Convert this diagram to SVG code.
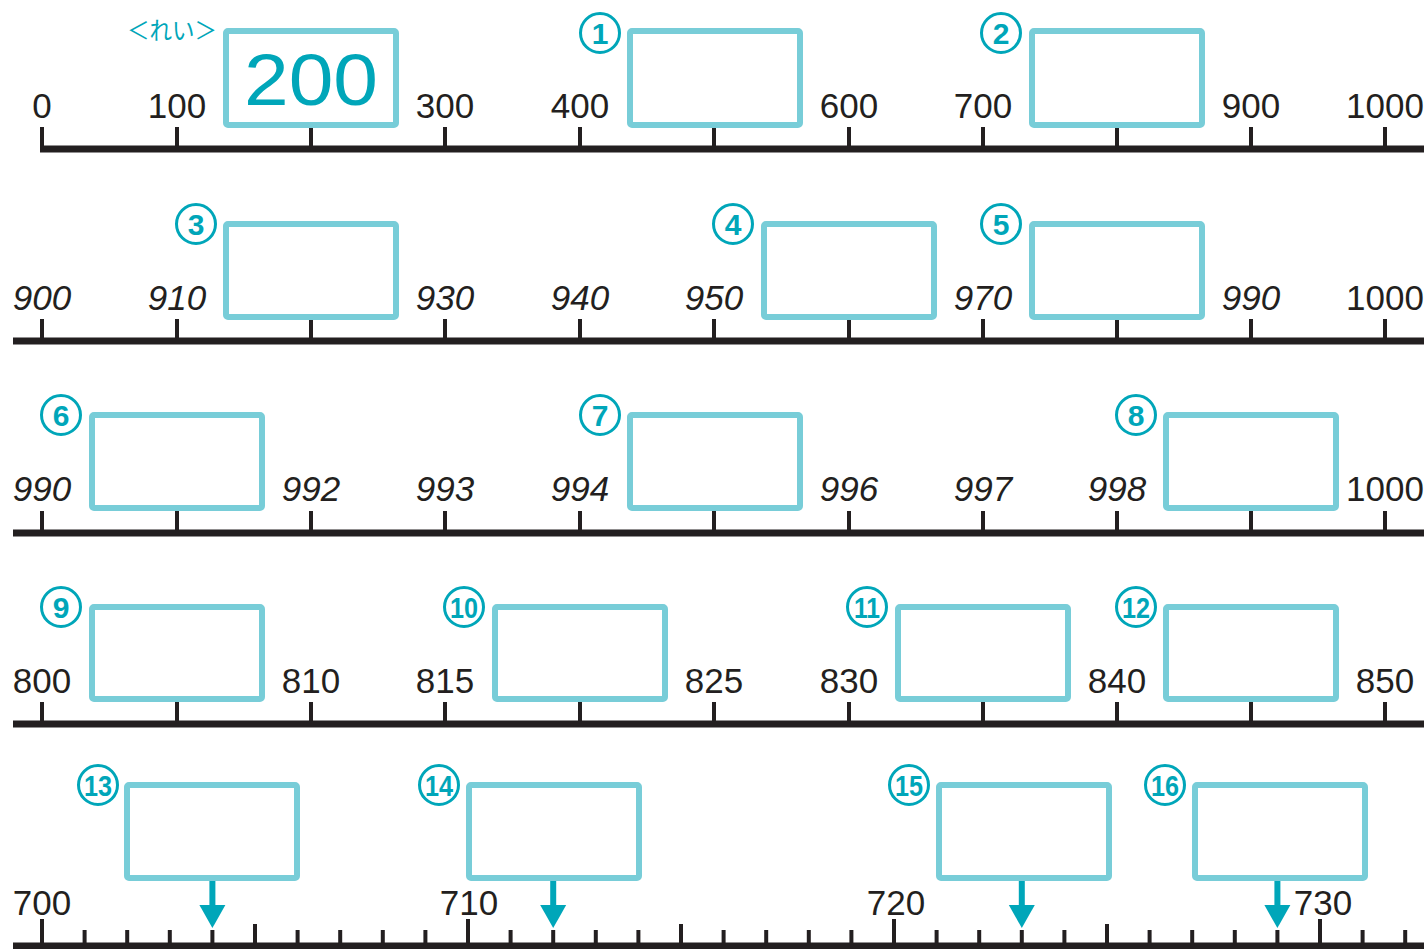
<svg xmlns="http://www.w3.org/2000/svg" width="1424" height="949" viewBox="0 0 1424 949">
<style>
.ax{stroke:#231f20;stroke-width:7;fill:none}
.tk{stroke:#231f20;stroke-width:4;fill:none}
.bx{fill:#fff;stroke:#78cdd8;stroke-width:6}
.lb{font-family:"Liberation Sans",Arial,sans-serif;font-size:35px;fill:#231f20;text-anchor:middle}
.it{font-style:italic}
.cc{fill:#fff;stroke:#00a6b9;stroke-width:3}
.cn{font-family:"Liberation Sans",Arial,sans-serif;font-size:30px;font-weight:bold;fill:#00a6b9;text-anchor:middle}
.ar{fill:#00a6b9}
.as{stroke:#00a6b9;stroke-width:6}
</style>
<rect width="1424" height="949" fill="#fff"/>
<g id="axes">
<line class="ax" x1="40" y1="149" x2="1424" y2="149"/>
<line class="ax" x1="13" y1="341" x2="1424" y2="341"/>
<line class="ax" x1="13" y1="533" x2="1424" y2="533"/>
<line class="ax" x1="13" y1="724" x2="1424" y2="724"/>
<line class="ax" x1="13" y1="946" x2="1424" y2="946"/>
<path class="tk" d="M42 127V149M177 127V149M311 127V149M445 127V149M580 127V149M714 127V149M849 127V149M983 127V149M1117 127V149M1251 127V149M1385 127V149"/>
<path class="tk" d="M42 319V341M177 319V341M311 319V341M445 319V341M580 319V341M714 319V341M849 319V341M983 319V341M1117 319V341M1251 319V341M1385 319V341"/>
<path class="tk" d="M42 511V533M177 511V533M311 511V533M445 511V533M580 511V533M714 511V533M849 511V533M983 511V533M1117 511V533M1251 511V533M1385 511V533"/>
<path class="tk" d="M42 702V724M177 702V724M311 702V724M445 702V724M580 702V724M714 702V724M849 702V724M983 702V724M1117 702V724M1251 702V724M1385 702V724"/>
<path class="tk" d="M42 919V946M84.6 930V946M127.2 930V946M169.8 930V946M212.4 930V946M255 924V946M297.6 930V946M340.2 930V946M382.8 930V946M425.4 930V946M468 919V946M510.6 930V946M553.2 930V946M595.8 930V946M638.4 930V946M681 924V946M723.6 930V946M766.2 930V946M808.8 930V946M851.4 930V946M894 919V946M936.6 930V946M979.2 930V946M1021.8 930V946M1064.4 930V946M1107 924V946M1149.6 930V946M1192.2 930V946M1234.8 930V946M1277.4 930V946M1320 919V946M1362.6 930V946M1405.2 930V946"/>
</g>
<g id="labels">
<text class="lb" x="42" y="118">0</text>
<text class="lb" x="177" y="118">100</text>
<text class="lb" x="445" y="118">300</text>
<text class="lb" x="580" y="118">400</text>
<text class="lb" x="849" y="118">600</text>
<text class="lb" x="983" y="118">700</text>
<text class="lb" x="1251" y="118">900</text>
<text class="lb" x="1385" y="118">1000</text>
<text class="lb it" x="42" y="310">900</text>
<text class="lb it" x="177" y="310">910</text>
<text class="lb it" x="445" y="310">930</text>
<text class="lb it" x="580" y="310">940</text>
<text class="lb it" x="714" y="310">950</text>
<text class="lb it" x="983" y="310">970</text>
<text class="lb it" x="1251" y="310">990</text>
<text class="lb" x="1385" y="310">1000</text>
<text class="lb it" x="42" y="501">990</text>
<text class="lb it" x="311" y="501">992</text>
<text class="lb it" x="445" y="501">993</text>
<text class="lb it" x="580" y="501">994</text>
<text class="lb it" x="849" y="501">996</text>
<text class="lb it" x="983" y="501">997</text>
<text class="lb it" x="1117" y="501">998</text>
<text class="lb" x="1385" y="501">1000</text>
<text class="lb" x="42" y="693">800</text>
<text class="lb" x="311" y="693">810</text>
<text class="lb" x="445" y="693">815</text>
<text class="lb" x="714" y="693">825</text>
<text class="lb" x="849" y="693">830</text>
<text class="lb" x="1117" y="693">840</text>
<text class="lb" x="1385" y="693">850</text>
<text class="lb" x="42" y="915">700</text>
<text class="lb" x="469" y="915">710</text>
<text class="lb" x="896" y="915">720</text>
<text class="lb" x="1323" y="915">730</text>
</g>
<g id="example">
<text x="172" y="39" font-family="'Noto Sans CJK JP',sans-serif" font-size="24" fill="#00a6b9" text-anchor="middle" textLength="90" lengthAdjust="spacingAndGlyphs">＜れい＞</text>
<rect class="bx" x="226" y="31" width="170" height="94" rx="2"/>
<text x="311" y="105" font-family="'Liberation Sans',Arial,sans-serif" font-size="72" fill="#00a6b9" text-anchor="middle" textLength="134" lengthAdjust="spacingAndGlyphs">200</text>
</g>
<g id="arrows">
<line class="as" x1="212.4" y1="881" x2="212.4" y2="908"/><path class="ar" d="M199.4 905H225.4L212.4 928Z"/>
<line class="as" x1="553.2" y1="881" x2="553.2" y2="908"/><path class="ar" d="M540.2 905H566.2L553.2 928Z"/>
<line class="as" x1="1021.8" y1="881" x2="1021.8" y2="908"/><path class="ar" d="M1008.8 905H1034.8L1021.8 928Z"/>
<line class="as" x1="1277.4" y1="881" x2="1277.4" y2="908"/><path class="ar" d="M1264.4 905H1290.4L1277.4 928Z"/>
</g>
<g id="n1"><rect class="bx" x="630" y="31" width="170" height="94" rx="2"/><circle class="cc" cx="600" cy="33" r="19.5"/><text class="cn" x="600" y="44">1</text></g>
<g id="n2"><rect class="bx" x="1032" y="31" width="170" height="94" rx="2"/><circle class="cc" cx="1001" cy="33" r="19.5"/><text class="cn" x="1001" y="44">2</text></g>
<g id="n3"><rect class="bx" x="226" y="224" width="170" height="93" rx="2"/><circle class="cc" cx="196" cy="224" r="19.5"/><text class="cn" x="196" y="235">3</text></g>
<g id="n4"><rect class="bx" x="764" y="224" width="170" height="93" rx="2"/><circle class="cc" cx="733" cy="224" r="19.5"/><text class="cn" x="733" y="235">4</text></g>
<g id="n5"><rect class="bx" x="1032" y="224" width="170" height="93" rx="2"/><circle class="cc" cx="1001" cy="224" r="19.5"/><text class="cn" x="1001" y="235">5</text></g>
<g id="n6"><rect class="bx" x="92" y="415" width="170" height="93" rx="2"/><circle class="cc" cx="61" cy="415" r="19.5"/><text class="cn" x="61" y="426">6</text></g>
<g id="n7"><rect class="bx" x="630" y="415" width="170" height="93" rx="2"/><circle class="cc" cx="600" cy="415" r="19.5"/><text class="cn" x="600" y="426">7</text></g>
<g id="n8"><rect class="bx" x="1166" y="415" width="170" height="93" rx="2"/><circle class="cc" cx="1136" cy="415" r="19.5"/><text class="cn" x="1136" y="426">8</text></g>
<g id="n9"><rect class="bx" x="92" y="607" width="170" height="92" rx="2"/><circle class="cc" cx="61" cy="607" r="19.5"/><text class="cn" x="61" y="618">9</text></g>
<g id="n10"><rect class="bx" x="495" y="607" width="170" height="92" rx="2"/><circle class="cc" cx="464" cy="607" r="19.5"/><text class="cn" x="464" y="618" textLength="28" lengthAdjust="spacingAndGlyphs">10</text></g>
<g id="n11"><rect class="bx" x="898" y="607" width="170" height="92" rx="2"/><circle class="cc" cx="867" cy="607" r="19.5"/><text class="cn" x="867" y="618" textLength="26" lengthAdjust="spacingAndGlyphs">11</text></g>
<g id="n12"><rect class="bx" x="1166" y="607" width="170" height="92" rx="2"/><circle class="cc" cx="1136" cy="607" r="19.5"/><text class="cn" x="1136" y="618" textLength="28" lengthAdjust="spacingAndGlyphs">12</text></g>
<g id="n13"><rect class="bx" x="127" y="785" width="170" height="93" rx="2"/><circle class="cc" cx="98" cy="785" r="19.5"/><text class="cn" x="98" y="796" textLength="28" lengthAdjust="spacingAndGlyphs">13</text></g>
<g id="n14"><rect class="bx" x="469" y="785" width="170" height="93" rx="2"/><circle class="cc" cx="439" cy="785" r="19.5"/><text class="cn" x="439" y="796" textLength="28" lengthAdjust="spacingAndGlyphs">14</text></g>
<g id="n15"><rect class="bx" x="939" y="785" width="170" height="93" rx="2"/><circle class="cc" cx="909" cy="785" r="19.5"/><text class="cn" x="909" y="796" textLength="28" lengthAdjust="spacingAndGlyphs">15</text></g>
<g id="n16"><rect class="bx" x="1195" y="785" width="170" height="93" rx="2"/><circle class="cc" cx="1165" cy="785" r="19.5"/><text class="cn" x="1165" y="796" textLength="28" lengthAdjust="spacingAndGlyphs">16</text></g>
</svg>
